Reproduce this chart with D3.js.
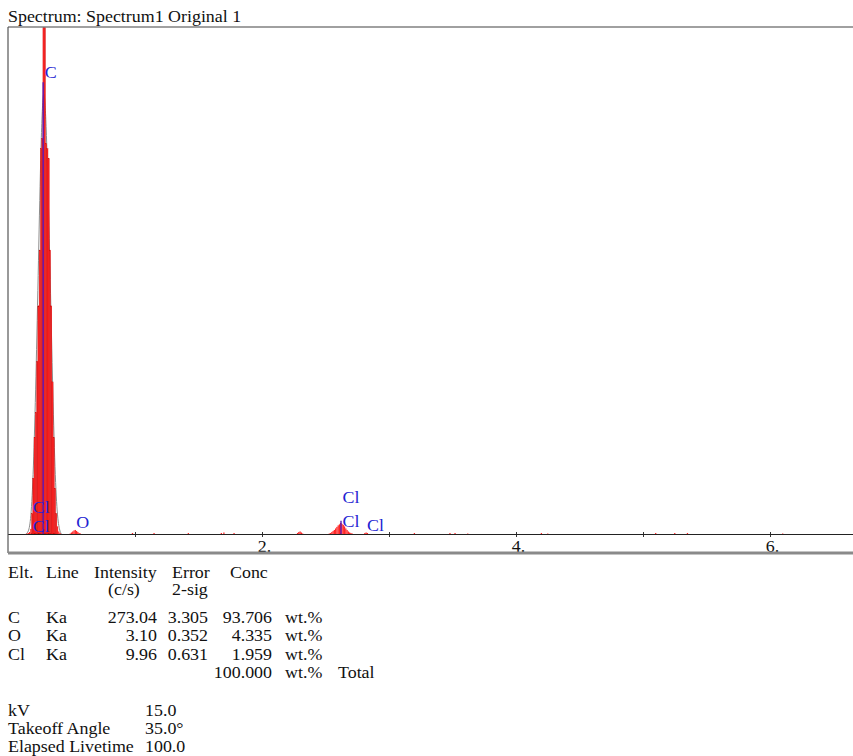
<!DOCTYPE html>
<html>
<head>
<meta charset="utf-8">
<script src="https://cdn.jsdelivr.net/npm/d3@7"></script>
<style>
  body { margin: 0; background: #fff; }
  text { font-family: "Liberation Serif", "Times New Roman", serif; font-size: 16px; }
</style>
</head>
<body>
<div id="chart"></div>
<script>
// spectrum channels (keV) and counts, 10 eV channels; channels not listed are ~0
const spectrumEnergy = [
  0.15, 0.16, 0.17, 0.18, 0.19, 0.20, 0.21, 0.22, 0.23, 0.24, 0.25, 0.26, 0.27, 0.28,
  0.29, 0.30, 0.31, 0.32, 0.33, 0.34, 0.35, 0.36, 0.37, 0.38, 0.39, 0.40, 0.41,
  0.49, 0.50, 0.51, 0.52, 0.53, 0.54, 0.55, 0.56, 0.57,
  0.98, 1.15, 1.42, 1.68, 1.70, 1.78, 2.28, 2.29, 2.30, 2.31, 2.32,
  2.53, 2.54, 2.55, 2.56, 2.57, 2.58, 2.59, 2.60, 2.61, 2.62, 2.63, 2.64, 2.65, 2.66,
  2.67, 2.68, 2.69, 2.70, 2.71,
  2.81, 2.82, 2.83, 3.20, 3.48, 3.52, 3.62, 4.20, 4.25, 5.10, 5.25, 5.35, 6.10
];
const spectrumCounts = [
  1, 2, 4, 10, 40, 110, 190, 240, 340, 450, 560, 760, 780, 1000,
  1000, 770, 760, 740, 560, 450, 300, 190, 90, 40, 15, 5, 2,
  1, 3, 5, 7, 8, 6, 4, 2, 1,
  2, 2, 2, 2, 3, 2, 2, 4, 5, 3, 1,
  1, 2, 4, 6, 8, 11, 14, 17, 19, 21, 20, 18, 15, 11,
  8, 5, 3, 2, 1,
  2, 3, 2, 2, 2, 2, 1, 2, 1, 2, 2, 2, 1
];

// fitted peak outline (grey)
const fitEnergy = [0.14, 0.16, 0.18, 0.20, 0.22, 0.24, 0.26, 0.28, 0.30, 0.32, 0.34, 0.36, 0.38, 0.40, 0.42];
const fitCounts = [0, 3, 25, 120, 300, 540, 780, 900, 820, 640, 420, 200, 60, 10, 0];

// element line markers
const markerEnergy = [0.277, 2.622];
const markerTop = [891, 26];

// element labels: name, line energy, label baseline level (counts)
const labelNames = ["C", "Cl", "Cl", "O", "Cl", "Cl", "Cl"];
const labelEnergy = [0.277, 0.183, 0.183, 0.525, 2.622, 2.622, 2.815];
const labelLevel = [900, 41, 4, 12, 61, 14, 6];

const tickValues = [1, 2, 3, 4, 5, 6];
const tickLabels = [2, 4, 6];

// quantification table
const tableElt = ["C", "O", "Cl"];
const tableLine = ["Ka", "Ka", "Ka"];
const tableIntensity = ["273.04", "3.10", "9.96"];
const tableError = ["3.305", "0.352", "0.631"];
const tableConc = ["93.706", "4.335", "1.959"];
const tableTotal = "100.000";

const condNames = ["kV", "Takeoff Angle", "Elapsed Livetime"];
const condValues = ["15.0", "35.0°", "100.0"];

const width = 853, height = 756;
const plot = { left: 8, right: 853, top: 27, base: 534, bottom: 553 };
const SX = 1.12; // horizontal stretch of the text

const svg = d3.select("#chart").append("svg")
  .attr("width", width).attr("height", height);

function txt(g, s, x, y, anchor, fill) {
  return g.append("text")
    .attr("transform", `translate(${x},${y}) scale(${SX},1)`)
    .attr("text-anchor", anchor || "start")
    .attr("fill", fill || "#111")
    .text(s);
}

const x = d3.scaleLinear().domain([0, (plot.right - plot.left) / 127]).range([plot.left, plot.right]);
const y = d3.scaleLinear().domain([0, 1000]).range([plot.base, plot.top]);

txt(svg, "Spectrum: Spectrum1 Original 1", 8, 22);

svg.append("clipPath").attr("id", "clip")
  .append("rect").attr("x", plot.left).attr("y", plot.top)
  .attr("width", plot.right - plot.left).attr("height", plot.base - plot.top);

const area = svg.append("g").attr("clip-path", "url(#clip)");

// fit outline
area.append("path")
  .datum(fitEnergy.map((e, i) => [e, fitCounts[i]]))
  .attr("fill", "none").attr("stroke", "#8c8c8c").attr("stroke-width", 1)
  .attr("d", d3.line().x(d => x(d[0])).y(d => y(d[1])).curve(d3.curveBasis));

// spectrum bars
const half = 0.005;
area.append("g").selectAll("rect")
  .data(spectrumEnergy.map((e, i) => ({ e, c: spectrumCounts[i] })))
  .join("rect")
  .attr("x", d => x(d.e - half))
  .attr("width", x(half * 2) - x(0))
  .attr("y", d => y(d.c))
  .attr("height", d => y(0) - y(d.c))
  .attr("fill", "#ff2626")
  .attr("stroke", d => d.c > 20 ? "#c80000" : "none")
  .attr("stroke-width", 0.35);

// marker lines
area.append("g").selectAll("line")
  .data(markerEnergy.map((e, i) => ({ e, t: markerTop[i] })))
  .join("line")
  .attr("x1", d => x(d.e)).attr("x2", d => x(d.e))
  .attr("y1", y(0)).attr("y2", d => y(d.t))
  .attr("stroke", "#5a18b8").attr("stroke-width", 1.4);

// element labels
labelNames.forEach((n, i) => {
  txt(svg, n, x(labelEnergy[i]) + 1.5, y(labelLevel[i]), "start", "#2323d2");
});

// baseline axis
const axis = svg.append("g")
  .attr("transform", `translate(0,${plot.base})`)
  .call(d3.axisBottom(x).tickValues(tickValues).tickSize(3).tickPadding(4)
    .tickFormat(d => tickLabels.includes(d) ? d + "." : ""));
axis.select(".domain").remove();
axis.selectAll(".tick line").attr("stroke", "#333").attr("y1", -2);
axis.selectAll(".tick text")
  .attr("fill", "#111").attr("font-size", 16)
  .attr("transform", `translate(2,0) scale(${SX},1)`);
svg.append("line")
  .attr("x1", plot.left).attr("x2", plot.right)
  .attr("y1", plot.base + 0.5).attr("y2", plot.base + 0.5)
  .attr("stroke", "#222").attr("stroke-width", 1.2);

// frame
svg.append("line").attr("x1", plot.left).attr("x2", plot.right)
  .attr("y1", plot.top).attr("y2", plot.top)
  .attr("stroke", "#808080").attr("stroke-width", 1.5);
svg.append("line").attr("x1", plot.left).attr("x2", plot.left)
  .attr("y1", plot.top).attr("y2", plot.bottom)
  .attr("stroke", "#555").attr("stroke-width", 1.2);
svg.append("line").attr("x1", plot.left).attr("x2", plot.right)
  .attr("y1", plot.bottom).attr("y2", plot.bottom)
  .attr("stroke", "#8a8a8a").attr("stroke-width", 3);

// table
const tb = svg.append("g");
txt(tb, "Elt.", 8, 578);
txt(tb, "Line", 46, 578);
txt(tb, "Intensity", 94, 578);
txt(tb, "Error", 172, 578);
txt(tb, "Conc", 230, 578);
txt(tb, "(c/s)", 108, 595);
txt(tb, "2-sig", 172, 595);
tableElt.forEach((el, i) => {
  const yy = 623 + i * 18.3;
  txt(tb, el, 8, yy);
  txt(tb, tableLine[i], 46, yy);
  txt(tb, tableIntensity[i], 157, yy, "end");
  txt(tb, tableError[i], 208, yy, "end");
  txt(tb, tableConc[i], 272, yy, "end");
  txt(tb, "wt.%", 285, yy);
});
txt(tb, tableTotal, 272, 678, "end");
txt(tb, "wt.%", 285, 678);
txt(tb, "Total", 338, 678);

condNames.forEach((n, i) => {
  const yy = 716 + i * 18;
  txt(tb, n, 8, yy);
  txt(tb, condValues[i], 145, yy);
});
</script>
</body>
</html>
